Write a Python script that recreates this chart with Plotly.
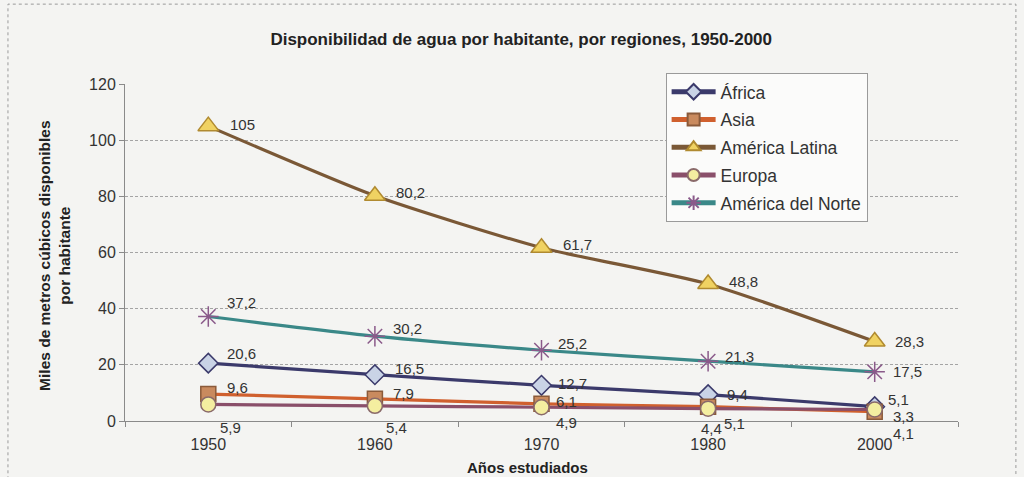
import plotly.graph_objects as go

# Water availability per inhabitant (thousands of m³), by region
years = ["1950", "1960", "1970", "1980", "2000"]
africa = [20.6, 16.5, 12.7, 9.4, 5.1]
asia = [9.6, 7.9, 6.1, 5.1, 3.3]
america_latina = [105, 80.2, 61.7, 48.8, 28.3]
europa = [5.9, 5.4, 4.9, 4.4, 4.1]
america_norte = [37.2, 30.2, 25.2, 21.3, 17.5]

FONT = "Liberation Sans, Arial, sans-serif"
TXT = "#333333"
BG = "#f4f4f2"


def fmt(v):
    return f"{v:g}".replace(".", ",")


# label offsets in pixels (right, down) from each marker, so crowded labels stay readable
series = [
    dict(name="África", y=africa, line="#3b3a6b", fill="#c9d3e6", edge="#3b3a6b",
         symbol="diamond", size=15,
         offs=[(17, -10), (18, -6), (14, -2), (17, 0), (11, -7)]),
    dict(name="Asia", y=asia, line="#d0602e", fill="#c98a5e", edge="#8a5a3a",
         symbol="square", size=15,
         offs=[(17, -7), (16, -5), (12, -2), (14, 17), (16, 5)]),
    dict(name="América Latina", y=america_latina, line="#7a5836", fill="#f0d262", edge="#b08a30",
         symbol="triangle-up", size=18,
         offs=[(20, -2), (19, -3), (19, -3), (19, -2), (18, 0)]),
    dict(name="Europa", y=europa, line="#8a4f6a", fill="#f4eea0", edge="#8a6a6a",
         symbol="circle", size=15,
         offs=[(10, 23), (9, 22), (12, 15), (-9, 20), (16, 24)]),
    dict(name="América del Norte", y=america_norte, line="#3a8888", fill="#8a5a8a", edge="#8a5a8a",
         symbol="asterisk", size=17,
         offs=[(17, -14), (16, -8), (14, -7), (15, -5), (16, 0)]),
]

fig = go.Figure()
annotations = []
for i, s in enumerate(series):
    fig.add_trace(go.Scatter(
        x=years, y=s["y"], name=s["name"], legendgroup=f"g{i}",
        mode="lines+markers",
        line=dict(color=s["line"], width=3.2, shape="spline", smoothing=0.6),
        marker=dict(symbol=s["symbol"], size=s["size"], color=s["fill"],
                    line=dict(color=s["edge"], width=1.5)),
        cliponaxis=False,
    ))
    # category axis: annotations use the category's serial index
    for idx, (v, (dx, dy)) in enumerate(zip(s["y"], s["offs"])):
        annotations.append(dict(
            x=idx, y=v, xref="x", yref="y", text=fmt(v), showarrow=False,
            xanchor="left", yanchor="middle", xshift=dx, yshift=-dy,
            font=dict(family=FONT, size=15, color=TXT),
        ))

annotations += [
    dict(text="<b>Miles de metros cúbicos disponibles<br>por habitante</b>",
         xref="paper", yref="paper", x=-0.084, y=0.49, textangle=-90,
         showarrow=False, font=dict(size=15.5, color="#222222"),
         xanchor="center", yanchor="middle"),
    dict(text="<b>Años estudiados</b>", xref="paper", yref="paper",
         x=0.483, y=-0.139, showarrow=False, font=dict(size=15, color="#222222"),
         xanchor="center", yanchor="middle"),
]

fig.update_layout(
    width=1024, height=477,
    margin=dict(l=125, r=66, t=84, b=56),
    paper_bgcolor=BG, plot_bgcolor=BG,
    font=dict(family=FONT, size=16, color=TXT),
    title=dict(text="<b>Disponibilidad de agua por habitante, por regiones, 1950-2000</b>",
               x=0.509, xanchor="center", y=0.918, yanchor="middle",
               font=dict(size=17, color="#222222")),
    showlegend=True,
    legend=dict(x=0.649, y=1.033, xanchor="left", yanchor="top",
                bgcolor="#fbfbfa", bordercolor="#9a9a9a", borderwidth=1,
                tracegroupgap=2, itemsizing="constant", itemwidth=44,
                font=dict(size=17.5, color=TXT)),
    xaxis=dict(type="category", range=[-0.5, 4.5], showline=True,
               linecolor="#8a8a8a", linewidth=1,
               ticks="outside", tickson="boundaries", ticklen=5, tickcolor="#8a8a8a",
               ticklabelstandoff=9, showgrid=False,
               tickfont=dict(size=16, color=TXT)),
    yaxis=dict(range=[0, 120], dtick=20, showline=True, linecolor="#8a8a8a", linewidth=1,
               ticks="outside", ticklen=5, tickcolor="#8a8a8a",
               showgrid=True, gridcolor="#a4a4a4", griddash="3px,2px", gridwidth=1,
               zeroline=False, tickfont=dict(size=16, color=TXT)),
    annotations=annotations,
    shapes=[
        dict(type="rect", xref="paper", yref="paper", x0=-0.1405, x1=1.0695, y0=-0.3, y1=1.237,
             line=dict(color="#9a9a9a", width=1, dash="dot"), layer="below"),
    ],
)

fig.write_html("out.html")
